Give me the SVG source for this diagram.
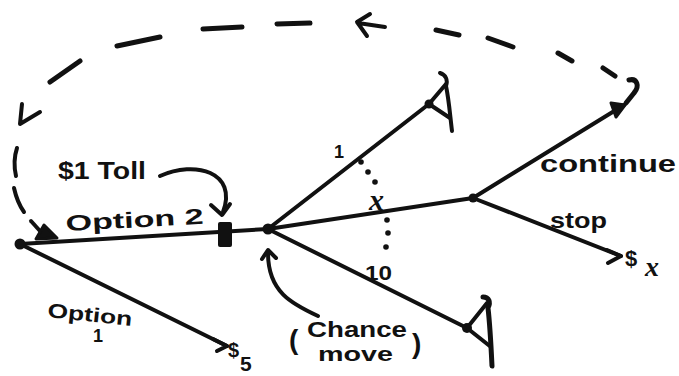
<svg xmlns="http://www.w3.org/2000/svg" width="679" height="376" viewBox="0 0 679 376">
<style>
.ln{fill:none;stroke:#111;stroke-width:4;stroke-linecap:round;stroke-linejoin:round}
.ds{fill:none;stroke:#111;stroke-width:5;stroke-linecap:round;stroke-linejoin:round}
.ah{fill:#111;stroke:#111;stroke-width:3;stroke-linejoin:round;stroke-linecap:round}
.oa{fill:none;stroke:#111;stroke-width:4;stroke-linecap:round;stroke-linejoin:round}
.t{font-family:"Liberation Sans","DejaVu Sans",sans-serif;font-weight:bold;fill:#111}
.v{font-family:"Liberation Serif","DejaVu Serif",serif;font-style:italic;font-weight:bold;fill:#111}
.dot{fill:#111}
</style>
<rect width="679" height="376" fill="#fff"/>

<g id="connectors">
  <path class="ln" d="M20,244 L268,229"/>
  <path class="ln" d="M20,244 L227,346"/>
  <path class="oa" d="M213,339 L227,346 L217,351"/>
  <path class="ln" d="M268,229 L429,104"/>
  <path class="ln" d="M268,229 L473,198"/>
  <path class="ln" d="M268,229 L467,328"/>
  <path class="ln" d="M473,198 L624,105"/>
  <path class="ah" d="M611,103 L625,105 L616,117 Z"/>
  <path class="ln" d="M473,198 L621,256"/>
  <path class="oa" d="M607,250 L621,256 L608,263"/>
  <path class="ln" d="M160,176 C195,160 238,172 223,212"/>
  <path class="oa" d="M211,205 L222,215 L230,204"/>
  <path class="ln" d="M318,316 C292,304 268,292 268,253"/>
  <path class="oa" d="M262,259 L268,250 L276,258"/>
  <g id="prob-dots" class="dot">
    <circle cx="361" cy="162" r="2.8"/>
    <circle cx="368" cy="172" r="2.8"/>
    <circle cx="375" cy="182" r="2.8"/>
    <circle cx="387" cy="220" r="2.8"/>
    <circle cx="388" cy="233" r="2.8"/>
    <circle cx="386" cy="247" r="2.8"/>
  </g>
  <g id="loop">
    <path class="ds" d="M629,80 C637,78 640,86 634,93 L626,103"/>
    <path class="ds" d="M603,68 L615,76"/>
    <path class="ds" d="M558,53 L572,61"/>
    <path class="ds" d="M488,38 L513,47"/>
    <path class="ds" d="M436,30 L459,35"/>
    <path class="oa" d="M370,14 L357,22 L367,36 M358,23 L385,27"/>
    <path class="ds" d="M277,24 L310,23"/>
    <path class="ds" d="M203,29 L242,27"/>
    <path class="ds" d="M117,46 L160,37"/>
    <path class="ds" d="M50,82 L80,61"/>
    <path class="oa" d="M22,104 L20,124 L40,112"/>
    <path class="oa" d="M17,148 C14,157 14,167 16,176"/>
    <path class="oa" d="M14,188 C16,197 19,205 24,212"/>
    <path class="oa" d="M31,221 L40,231"/>
    <path class="ah" d="M36,239 L44,225 L57,238 Z"/>
  </g>
</g>

<g id="node-start"><circle cx="20" cy="244" r="5.5" class="dot"/></g>
<g id="node-toll"><rect x="218" y="222" width="14" height="25" rx="2" fill="#111"/></g>
<g id="node-chance"><circle cx="268" cy="229" r="5.5" class="dot"/></g>
<g id="node-decision"><circle cx="473" cy="198" r="4.5" class="dot"/></g>
<g id="node-term-1">
  <circle cx="429" cy="104" r="4.5" class="dot"/>
  <path class="ln" d="M429,104 L446,84 M429,104 L450,118"/>
  <path class="ln" d="M440,73 C446,75 448,80 446,86 C449,100 450,115 452,131"/>
</g>
<g id="node-term-10">
  <circle cx="467" cy="328" r="5" class="dot"/>
  <path class="ln" d="M467,328 L487,303 M467,328 L491,347"/>
  <path class="ln" d="M483,297 C489,297 491,302 488,308 C490,325 491,345 492,366" style="stroke-width:5"/>
</g>

<g id="labels">
  <text class="t" x="58" y="179" font-size="24" textLength="88" lengthAdjust="spacingAndGlyphs">$1 Toll</text>
  <text class="t" x="66" y="231" font-size="22" textLength="138" lengthAdjust="spacingAndGlyphs" transform="rotate(-3 66 231)">Option 2</text>
  <text class="t" x="47" y="317" font-size="20" textLength="85" lengthAdjust="spacingAndGlyphs" transform="rotate(6 47 317)">Option</text>
  <text class="t" x="93" y="342" font-size="18">1</text>
  <text class="t" x="228" y="357" font-size="20">$</text>
  <text class="t" x="240" y="371" font-size="21">5</text>
  <text class="t" x="334" y="158" font-size="18">1</text>
  <text class="v" x="369" y="210" font-size="30">x</text>
  <text class="t" x="365" y="280" font-size="20" textLength="27" lengthAdjust="spacingAndGlyphs">10</text>
  <text class="t" x="540" y="172" font-size="24" textLength="136" lengthAdjust="spacingAndGlyphs">continue</text>
  <text class="t" x="550" y="228" font-size="22" textLength="57" lengthAdjust="spacingAndGlyphs">stop</text>
  <text class="t" x="625" y="266" font-size="22">$</text>
  <text class="v" x="645" y="276" font-size="28">x</text>
  <text class="t" x="289" y="349" font-size="28">(</text>
  <text class="t" x="307" y="337" font-size="22" textLength="100" lengthAdjust="spacingAndGlyphs">Chance</text>
  <text class="t" x="318" y="361" font-size="20" textLength="75" lengthAdjust="spacingAndGlyphs">move</text>
  <text class="t" x="412" y="353" font-size="28">)</text>
</g>
</svg>
